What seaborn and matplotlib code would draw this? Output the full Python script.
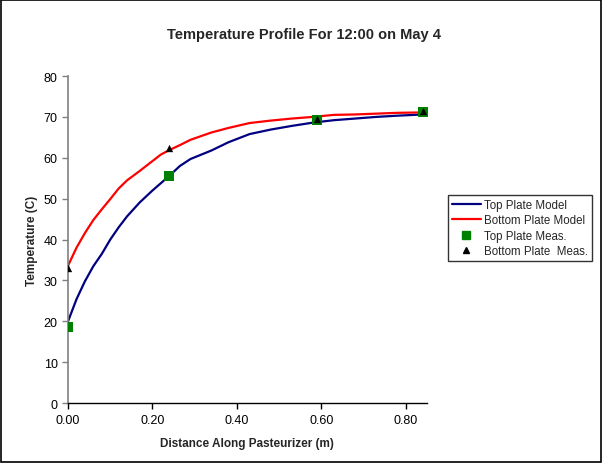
import numpy as np
import pandas as pd
import matplotlib
matplotlib.use("Agg")
import matplotlib.pyplot as plt
from matplotlib.lines import Line2D
import seaborn as sns

# model curves
model_dist = [0.00, 0.02, 0.04, 0.06, 0.08, 0.10, 0.12, 0.14, 0.17, 0.20, 0.22, 0.24, 0.265,
              0.29, 0.34, 0.38, 0.43, 0.48, 0.53, 0.58, 0.63, 0.68, 0.73, 0.78, 0.84]
top_model = [20.0, 25.4, 29.8, 33.5, 36.5, 40.0, 43.0, 45.7, 49.1, 52.0, 53.8, 55.6, 58.0,
             59.7, 61.8, 63.8, 65.8, 66.9, 67.8, 68.6, 69.2, 69.6, 70.0, 70.3, 70.6]
bottom_model = [33.6, 38.0, 41.6, 44.8, 47.4, 49.9, 52.5, 54.5, 56.8, 59.2, 60.8, 61.9, 63.1,
                64.4, 66.2, 67.3, 68.5, 69.1, 69.6, 70.0, 70.5, 70.6, 70.8, 71.0, 71.1]

# measurements
meas_dist = [0.00, 0.24, 0.59, 0.84]
top_meas = [18.7, 55.5, 69.3, 71.3]
bottom_meas = [33.0, 62.3, 69.5, 71.5]

model_df = pd.DataFrame({
    "dist": model_dist * 2,
    "temp": top_model + bottom_model,
    "series": ["Top Plate Model"] * len(model_dist) + ["Bottom Plate Model"] * len(model_dist),
})

sns.set_theme(style="white")
plt.rcParams["font.family"] = ["Liberation Sans", "DejaVu Sans"]

fig = plt.figure(figsize=(6.02, 4.64), dpi=100)
ax = fig.add_axes([0.113, 0.129, 0.596, 0.705])

sns.lineplot(data=model_df, x="dist", y="temp", hue="series",
             palette={"Top Plate Model": "#000080", "Bottom Plate Model": "#ff0000"},
             linewidth=1.6, ax=ax, legend=False)
sns.scatterplot(x=meas_dist, y=top_meas, marker="s", s=55, color="#008000",
                edgecolor="#008000", linewidth=0, ax=ax, zorder=3)
sns.scatterplot(x=meas_dist, y=bottom_meas, marker="^", s=28, color="black",
                edgecolor="black", linewidth=0, ax=ax, zorder=4)

ax.set_xlim(0, 0.85)
ax.set_ylim(0, 80)
ax.set_xticks([0.0, 0.2, 0.4, 0.6, 0.8])
ax.set_xticklabels(["0.00", "0.20", "0.40", "0.60", "0.80"])
ax.set_yticks(range(0, 81, 10))
ax.tick_params(axis="both", direction="out", length=4, width=1, labelsize=9,
               colors="black", bottom=True, left=True)
ax.tick_params(axis="y", color="#808080")
for s in ["top", "right"]:
    ax.spines[s].set_visible(False)
ax.spines["left"].set_color("#808080")
ax.spines["left"].set_linewidth(1.2)
ax.spines["bottom"].set_color("black")
ax.spines["bottom"].set_linewidth(1.0)

ax.set_xlabel("Distance Along Pasteurizer (m)", fontsize=8.5, fontweight="bold", labelpad=8)
ax.set_ylabel("Temperature (C)", fontsize=8.5, fontweight="bold", labelpad=4)
fig.text(0.505, 0.925, "Temperature Profile For 12:00 on May 4", ha="center", va="center",
         fontsize=10.5, fontweight="bold")

handles = [
    Line2D([], [], color="#000080", lw=1.6),
    Line2D([], [], color="#ff0000", lw=1.6),
    Line2D([], [], marker="s", color="#008000", ls="", markersize=6),
    Line2D([], [], marker="^", color="black", ls="", markersize=4.5),
]
labels = ["Top Plate Model", "Bottom Plate Model", "Top Plate Meas.", "Bottom Plate  Meas."]
leg = fig.legend(handles, labels, loc="upper left", bbox_to_anchor=(0.745, 0.577),
                 frameon=True, fancybox=False, fontsize=8.3, handlelength=2.5,
                 handletextpad=0.3, borderpad=0.3, labelspacing=0.3, borderaxespad=0)
leg.get_frame().set_edgecolor("black")
leg.get_frame().set_linewidth(1.0)

# outer chart border
fig.patches.append(plt.Rectangle((0.002, 0.002), 0.996, 0.996, transform=fig.transFigure,
                                 fill=False, edgecolor="black", linewidth=1.2))

fig.savefig("out.png", dpi=100)
